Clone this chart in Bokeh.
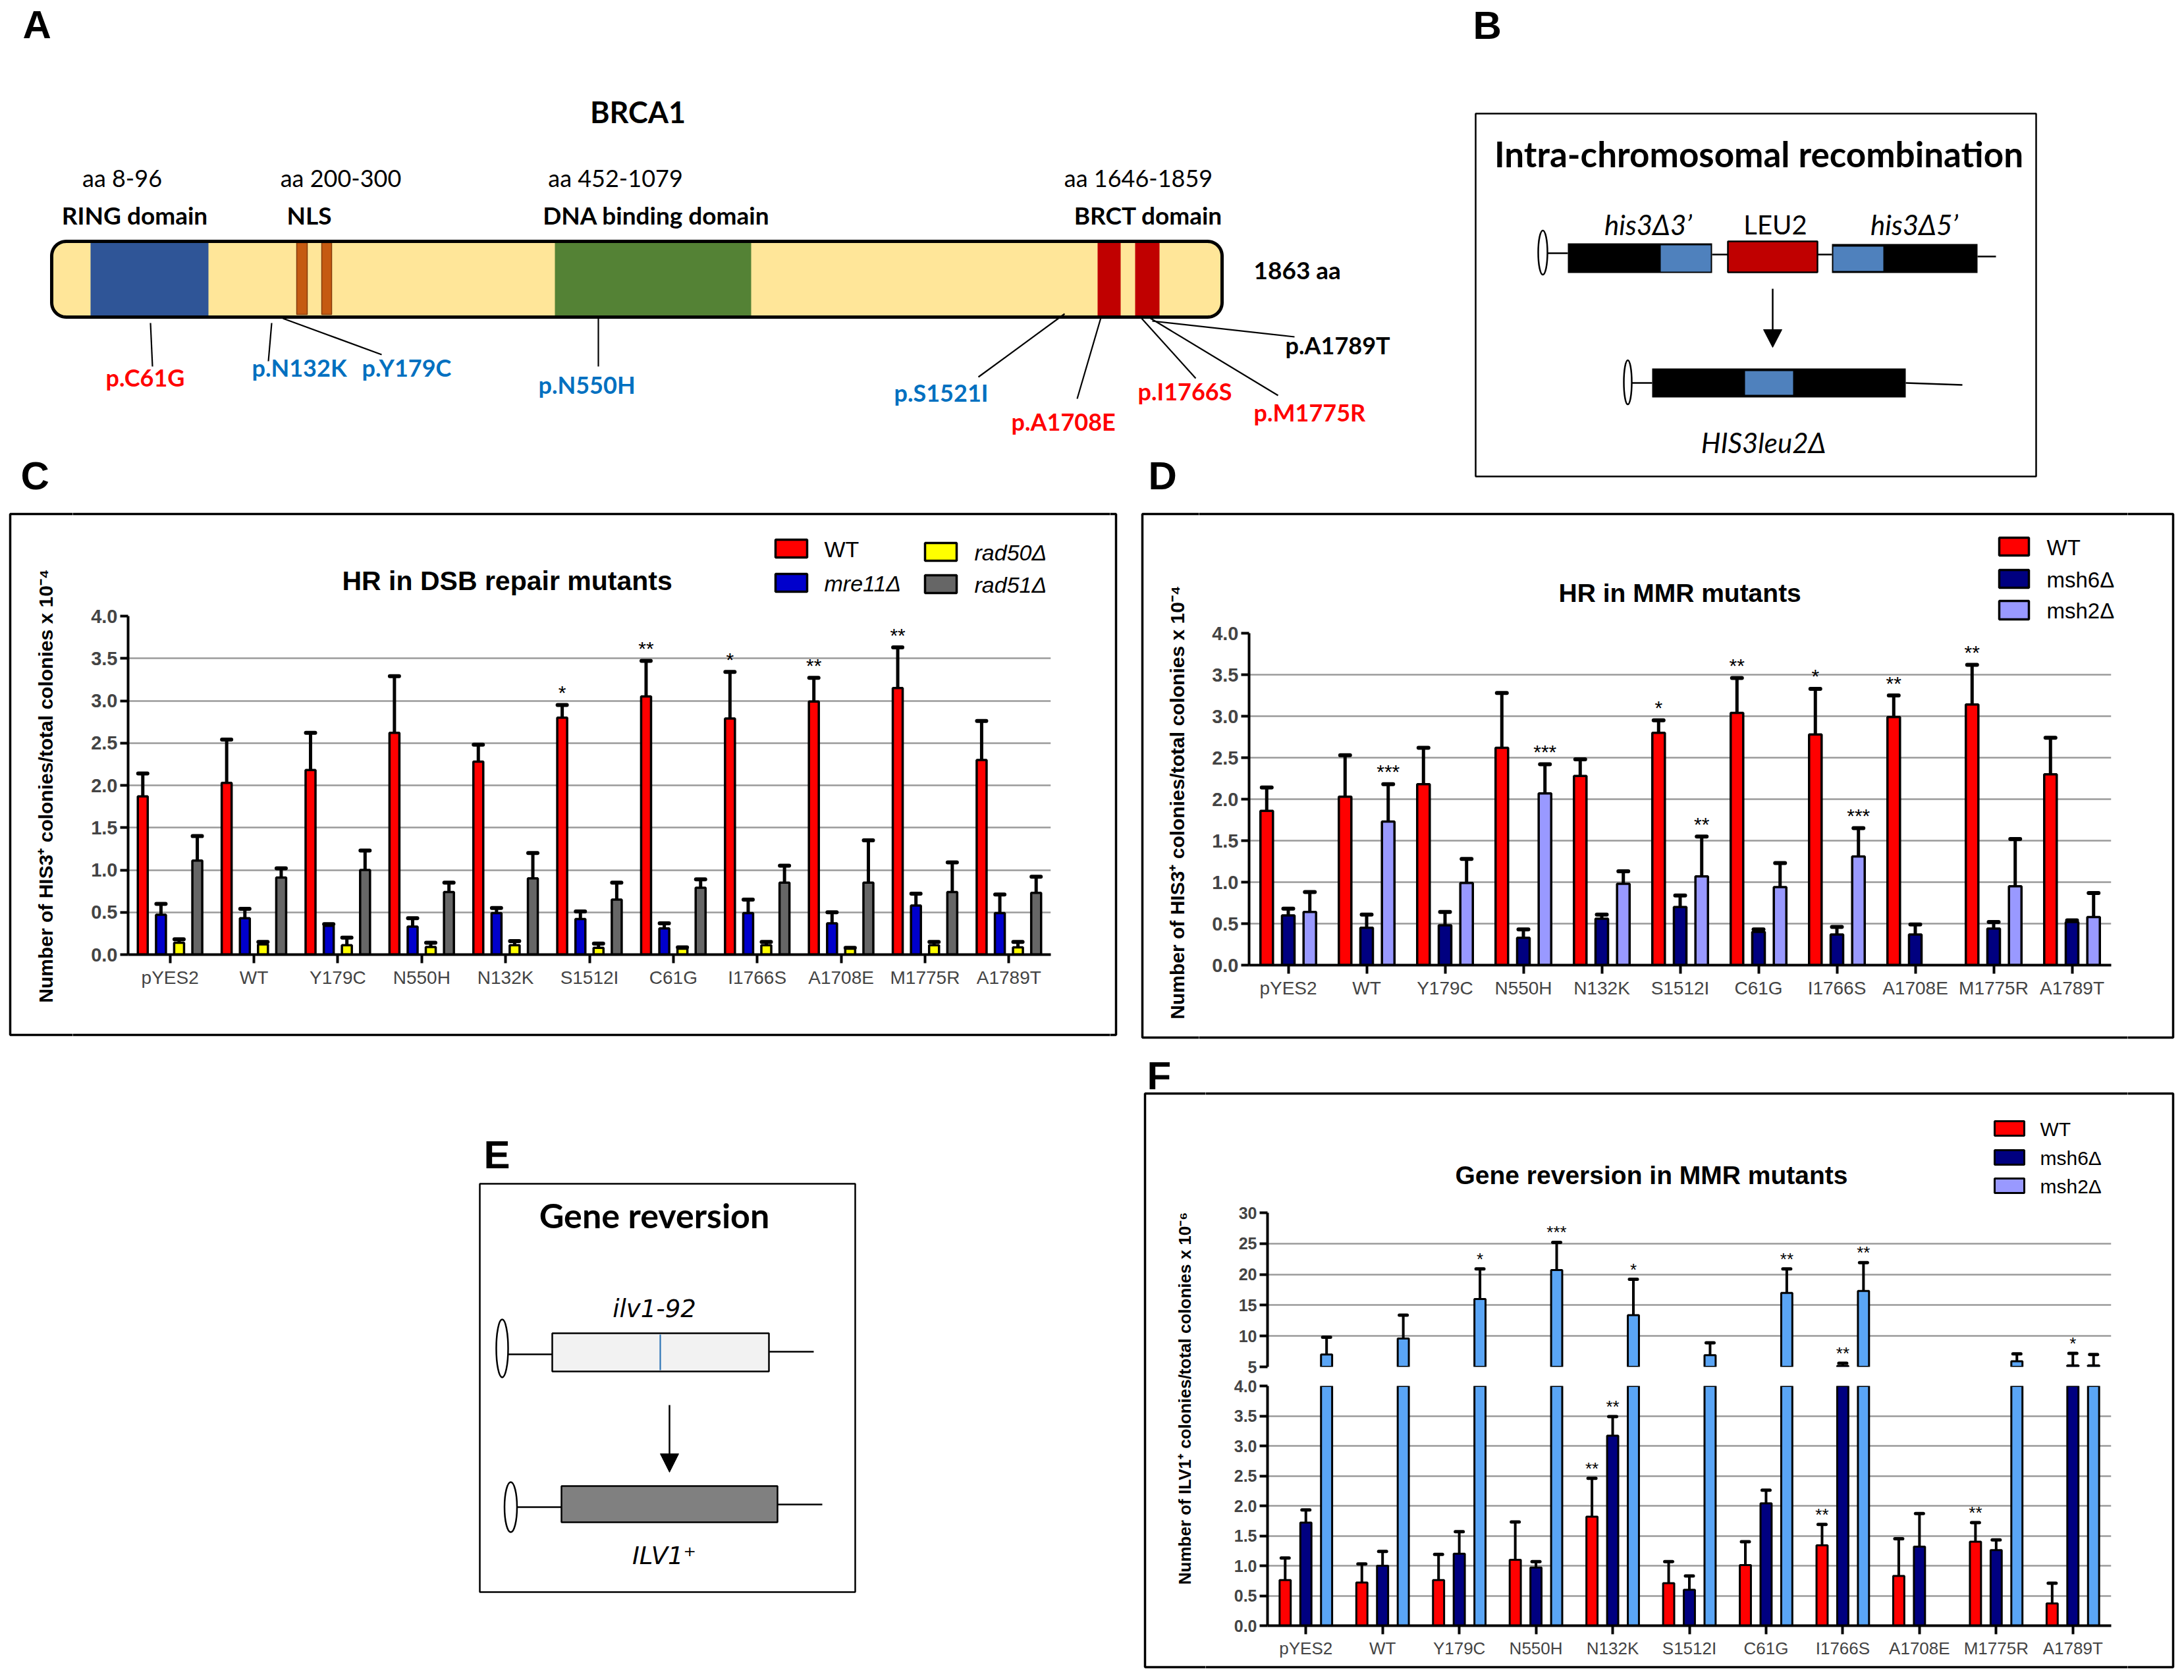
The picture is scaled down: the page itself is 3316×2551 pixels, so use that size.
import numpy as np
from bokeh.plotting import figure
from bokeh.models import Range1d, FactorRange, FixedTicker, ColumnDataSource, PrintfTickFormatter
from bokeh.transform import dodge
from bokeh.layouts import row, column
from bokeh.core.properties import value
from bokeh.embed import file_html
from bokeh.resources import INLINE

nan = float("nan")

# ---------------------------------------------------------------- data
categories = ["pYES2", "WT", "Y179C", "N550H", "N132K", "S1512I",
              "C61G", "I1766S", "A1708E", "M1775R", "A1789T"]

# Panel C : HR in DSB repair mutants (x 10^-4)
c_series = ["WT", "mre11Δ", "rad50Δ", "rad51Δ"]
c_colors = ["#FF0000", "#0000CC", "#FFFF00", "#666666"]
c_wt = [1.87, 2.03, 2.18, 2.62, 2.28, 2.80, 3.05, 2.79, 2.99, 3.15, 2.30]
c_wt_err = [2.14, 2.54, 2.62, 3.29, 2.48, 2.95, 3.47, 3.34, 3.27, 3.63, 2.76]
c_mre11 = [0.47, 0.43, 0.34, 0.33, 0.49, 0.42, 0.31, 0.49, 0.37, 0.58, 0.49]
c_mre11_err = [0.60, 0.54, 0.36, 0.43, 0.55, 0.51, 0.37, 0.65, 0.50, 0.72, 0.71]
c_rad50 = [0.14, 0.12, 0.11, 0.09, 0.11, 0.08, 0.07, 0.11, 0.07, 0.11, 0.085]
c_rad50_err = [0.18, 0.15, 0.20, 0.14, 0.16, 0.13, 0.085, 0.15, 0.08, 0.15, 0.15]
c_rad51 = [1.11, 0.91, 1.00, 0.74, 0.90, 0.65, 0.79, 0.85, 0.85, 0.74, 0.73]
c_rad51_err = [1.40, 1.02, 1.23, 0.85, 1.20, 0.85, 0.89, 1.05, 1.35, 1.09, 0.92]
c_stars = [("S1512I", 0, "*"), ("C61G", 0, "**"), ("I1766S", 0, "*"),
           ("A1708E", 0, "**"), ("M1775R", 0, "**")]

# Panel D : HR in MMR mutants (x 10^-4)
d_series = ["WT", "msh6Δ", "msh2Δ"]
d_colors = ["#FF0000", "#000080", "#9999FF"]
d_wt = [1.86, 2.03, 2.18, 2.62, 2.28, 2.80, 3.04, 2.78, 2.99, 3.14, 2.30]
d_wt_err = [2.14, 2.53, 2.62, 3.28, 2.48, 2.95, 3.46, 3.33, 3.25, 3.62, 2.74]
d_msh6 = [0.60, 0.45, 0.48, 0.33, 0.56, 0.70, 0.40, 0.37, 0.37, 0.44, 0.52]
d_msh6_err = [0.68, 0.61, 0.64, 0.43, 0.61, 0.84, 0.43, 0.46, 0.49, 0.52, 0.54]
d_msh2 = [0.64, 1.73, 0.99, 2.07, 0.98, 1.07, 0.94, 1.31, nan, 0.95, 0.58]
d_msh2_err = [0.88, 2.18, 1.28, 2.42, 1.13, 1.55, 1.23, 1.65, nan, 1.52, 0.87]
d_stars = [("WT", 2, "***"), ("N550H", 2, "***"), ("S1512I", 0, "*"), ("S1512I", 2, "**"),
           ("C61G", 0, "**"), ("I1766S", 0, "*"), ("I1766S", 2, "***"),
           ("A1708E", 0, "**"), ("M1775R", 0, "**")]

# Panel F : Gene reversion in MMR mutants (x 10^-6)
f_series = ["WT", "msh6Δ", "msh2Δ"]
f_bar_colors = ["#FF0000", "#000080", "#5AA5F5"]
f_legend_colors = ["#FF0000", "#000080", "#9999FF"]
f_wt = [0.76, 0.72, 0.76, 1.10, 1.82, 0.71, 1.01, 1.34, 0.83, 1.40, 0.37]
f_wt_err = [1.13, 1.03, 1.19, 1.73, 2.46, 1.07, 1.40, 1.69, 1.45, 1.72, 0.71]
f_msh6 = [1.72, 1.00, 1.20, 0.97, 3.17, 0.60, 2.04, 5.15, 1.32, 1.26, 5.25]
f_msh6_err = [1.93, 1.24, 1.57, 1.07, 3.49, 0.83, 2.26, 5.6, 1.87, 1.43, 7.2]
f_msh2 = [7.0, 9.6, 16.0, 20.7, 13.4, 6.9, 17.0, 17.3, nan, 5.9, 5.25]
f_msh2_err = [9.8, 13.4, 20.9, 25.2, 19.2, 8.9, 20.9, 21.9, nan, 7.1, 7.0]
f_stars = [("Y179C", 2, "*"), ("N550H", 2, "***"), ("N132K", 2, "*"), ("N132K", 0, "**"),
           ("N132K", 1, "**"), ("C61G", 2, "**"), ("I1766S", 0, "**"), ("I1766S", 1, "**"),
           ("I1766S", 2, "**"), ("M1775R", 0, "**"), ("A1789T", 1, "*")]

# Panel A : BRCA1 schematic
a_domain_labels = [("aa 8-96", "RING domain", 185, 204), ("aa 200-300", "NLS", 517, 469),
                   ("aa 452-1079", "DNA binding domain", 934, 996),
                   ("aa 1646-1859", "BRCT domain", 1728, 1743)]
a_mutations = [("p.C61G", "#FF0000", 160, 585, (228, 490, 231, 556)),
               ("p.N132K", "#0070C0", 382, 570, (412, 490, 407, 548)),
               ("p.Y179C", "#0070C0", 549, 570, (429, 483, 579, 538)),
               ("p.N550H", "#0070C0", 817, 596, (908, 483, 908, 556)),
               ("p.S1521I", "#0070C0", 1357, 608, (1616, 476, 1485, 572)),
               ("p.A1708E", "#FF0000", 1535, 652, (1671, 482, 1635, 605)),
               ("p.I1766S", "#FF0000", 1727, 606, (1732, 482, 1815, 574)),
               ("p.M1775R", "#FF0000", 1903, 638, (1745, 482, 1940, 600)),
               ("p.A1789T", "black", 1951, 536, (1749, 487, 1965, 511))]

# ---------------------------------------------------------------- style
ARIAL = "Liberation Sans"
CAL = "Lato"
VERD = "DejaVu Sans"

BOXES = [(2240, 172, 3091, 723, 2.5), (15, 780, 1694, 1571, 3.5), (1734, 780, 3299, 1575, 3.5),
         (728, 1797, 1298, 2417, 2.5), (1738, 1660, 3299, 2531, 3.5)]


def canvas(x0, y0, x1, y1):
    p = figure(width=x1 - x0, height=y1 - y0, x_range=Range1d(x0, x1), y_range=Range1d(-y1, -y0),
               x_axis_location=None, y_axis_location=None, toolbar_location=None,
               output_backend="svg", min_border=0, frame_align=False)
    p.xgrid.visible = False
    p.ygrid.visible = False
    p.outline_line_color = None
    p.border_fill_color = "white"
    p.background_fill_color = "white"
    p.quad(left=[b[0] for b in BOXES], right=[b[2] for b in BOXES],
           top=[-b[1] for b in BOXES], bottom=[-b[3] for b in BOXES],
           fill_color=None, line_color="black", line_width=[b[4] for b in BOXES])
    return p


def txt(p, x, y, s, size, font=CAL, style="normal", color="black", align="left",
        baseline="alphabetic", angle=0.0):
    # y is the intended alphabetic baseline (page px); drawn with a 'middle' anchor
    if baseline == "alphabetic":
        y = y - 0.35 * size
        baseline = "middle"
    p.text(x=[x], y=[-y], text=[s], text_font=value(font), text_font_size=f"{size}px",
           text_font_style=style, text_color=color, text_align=align,
           text_baseline=baseline, angle=angle)


def seg(p, x0, y0, x1, y1, w=2.5, color="black"):
    p.segment(x0=[x0], y0=[-y0], x1=[x1], y1=[-y1], line_color=color, line_width=w)


def box(p, x0, y0, x1, y1, fill, line=None, w=2.5):
    p.quad(left=[x0], right=[x1], top=[-y0], bottom=[-y1], fill_color=fill,
           line_color=line, line_width=w)


def oval(p, cx, cy, w, h):
    p.ellipse(x=[cx], y=[-cy], width=[w], height=[h], fill_color="white",
              line_color="black", line_width=2.5)


def arrow(p, x, y0, y1, hw, hl):
    seg(p, x, y0, x, y1 - hl + 2, 2.5)
    p.patch(x=[x - hw, x + hw, x], y=[-(y1 - hl), -(y1 - hl), -y1], fill_color="black",
            line_color="black")


def rounded(x0, y0, x1, y1, r, n=14):
    top, bot = -y0, -y1
    xs, ys = [], []
    for (cx, cy, a0) in [(x1 - r, top - r, 0), (x0 + r, top - r, 90),
                         (x0 + r, bot + r, 180), (x1 - r, bot + r, 270)]:
        for t in np.linspace(np.radians(a0), np.radians(a0 + 90), n):
            xs.append(cx + r * np.cos(t))
            ys.append(cy + r * np.sin(t))
    return xs, ys


# ---------------------------------------------------------------- row 1 (A, B)
r1 = canvas(0, 0, 3306, 770)
for s, x, y in [("A", 34, 58), ("B", 2236, 59), ("C", 31, 743), ("D", 1743, 743)]:
    txt(r1, x, y, s, 60, ARIAL, "bold")

txt(r1, 968, 185, "BRCA1", 45, CAL, "bold", align="center")
px, py = rounded(78, 366, 1855, 481, 22)
r1.patch(x=px, y=py, fill_color="#FFE699", line_color=None)
box(r1, 137, 368, 316, 479, "#2F5597")
box(r1, 450, 368, 466, 477, "#C55A11", "#843C0C", 1.5)
box(r1, 488, 368, 503, 477, "#C55A11", "#843C0C", 1.5)
box(r1, 842, 368, 1140, 479, "#548235")
box(r1, 1666, 367, 1701, 480, "#C00000")
box(r1, 1723, 367, 1760, 480, "#C00000")
r1.patch(x=px, y=py, fill_color=None, line_color="black", line_width=5)
for aa, name, xa, xn in a_domain_labels:
    txt(r1, xa, 282, aa, 36, CAL, "normal", align="center")
    txt(r1, xn, 339, name, 37, CAL, "bold", align="center")
txt(r1, 1903, 422, "1863 aa", 37, CAL, "bold")
for lab, col, lx, ly, (x0, y0, x1, y1) in a_mutations:
    seg(r1, x0, y0, x1, y1, 2.2)
    txt(r1, lx, ly, lab, 36, CAL, "bold", color=col)

# B
txt(r1, 2670, 252, "Intra-chromosomal recombination", 53, CAL, "bold", align="center")
txt(r1, 2502, 355, "his3Δ3’", 42, CAL, "italic", align="center")
txt(r1, 2695, 354, "LEU2", 40, CAL, "normal", align="center")
txt(r1, 2906, 355, "his3Δ5’", 42, CAL, "italic", align="center")
seg(r1, 2349, 384, 2380, 384)
seg(r1, 2599, 386, 2623, 386)
seg(r1, 2759, 386, 2781, 386)
seg(r1, 3002, 389, 3030, 389)
oval(r1, 2342, 383, 14, 67)
box(r1, 2380, 369, 2599, 414, "black")
box(r1, 2521, 372, 2597, 412, "#4F81BD")
box(r1, 2623, 366, 2759, 413, "#C00000", "black", 2.5)
box(r1, 2781, 370, 3002, 414, "black")
box(r1, 2783, 374, 2859, 411, "#4F81BD")
arrow(r1, 2691, 438, 527, 14, 27)
seg(r1, 2477, 581, 2508, 581)
seg(r1, 2893, 581, 2979, 584)
oval(r1, 2471, 580, 12, 67)
box(r1, 2508, 559, 2893, 603, "black")
box(r1, 2649, 563, 2722, 599, "#4F81BD")
txt(r1, 2677, 686, "HIS3leu2Δ", 42, CAL, "italic", align="center")


# ---------------------------------------------------------------- chart helpers
def bar_chart(width, height, xr, yr, mb, yticks, gticks, ybounds, fmt, ytick_size,
              show_x, xlab_size):
    p = figure(width=width, height=height, x_range=xr, y_range=Range1d(yr[0], yr[1]),
               toolbar_location=None, output_backend="svg", frame_align=False,
               x_axis_location="below" if show_x else None,
               min_border_left=mb[0], min_border_right=mb[1],
               min_border_top=mb[2], min_border_bottom=mb[3])
    p.outline_line_color = None
    p.border_fill_color = "white"
    p.background_fill_color = "white"
    p.xgrid.visible = False
    p.ygrid.ticker = FixedTicker(ticks=gticks)
    p.ygrid.grid_line_color = "#9A9A9A"
    p.ygrid.grid_line_width = 2.5
    ax = p.yaxis[0]
    ax.ticker = FixedTicker(ticks=yticks)
    ax.bounds = ybounds
    ax.formatter = PrintfTickFormatter(format=fmt)
    ax.axis_line_width = 4
    ax.major_tick_line_width = 4
    ax.major_tick_out = 12
    ax.major_tick_in = 0
    ax.minor_tick_line_color = None
    ax.major_label_text_font = ARIAL
    ax.major_label_text_font_size = f"{ytick_size}px"
    ax.major_label_text_font_style = "bold"
    ax.major_label_standoff = 4
    if show_x:
        xa = p.xaxis[0]
        xa.axis_line_width = 4
        xa.major_tick_line_width = 4
        xa.major_tick_out = 13
        xa.major_tick_in = 0
        xa.major_label_text_font = ARIAL
        xa.major_label_text_font_size = f"{xlab_size}px"
        xa.major_label_standoff = 6
    return p


def draw_series(p, vals, errs, off, width, color, lw, elw, cap, min_err=None):
    v = np.array(vals, float)
    e = np.array(errs, float)
    if min_err is not None:
        keep = e >= min_err
        v = np.where(keep, v, nan)
        e = np.where(keep, e, nan)
    src = ColumnDataSource(dict(cat=categories, val=v, err=e))
    xd = dodge("cat", off, range=p.x_range)
    p.segment(x0=xd, y0="val", x1=xd, y1="err", source=src, line_color="black", line_width=elw)
    p.scatter(x=xd, y="err", source=src, marker="dash", size=cap, line_color="black",
              line_width=elw + 1, line_cap="round")
    p.vbar(x=xd, top="val", bottom=0, width=width, source=src, fill_color=color,
           line_color="black", line_width=lw)


def draw_stars(p, stars, offsets, err_lists, size, yoff, lo=-1e9, hi=1e9):
    for k, off in enumerate(offsets):
        sel = [s for s in stars if s[1] == k
               and lo <= err_lists[k][categories.index(s[0])] < hi]
        if not sel:
            continue
        src = ColumnDataSource(dict(cat=[s[0] for s in sel],
                                    y=[err_lists[k][categories.index(s[0])] for s in sel],
                                    t=[s[2] for s in sel]))
        p.text(x=dodge("cat", off, range=p.x_range), y="y", text="t", source=src,
               text_font=value(ARIAL), text_font_size=f"{size}px", text_align="center",
               text_baseline="middle", y_offset=yoff, text_color="black")


def legend(p, names, colors, rects, tx, size, styles, lw):
    for name, col, (x0, y0, x1, y1), x, st in zip(names, colors, rects, tx, styles):
        box(p, x0, y0, x1, y1, col, "black", lw)
        txt(p, x, (y0 + y1) / 2 + 1, name, size, ARIAL, st, baseline="middle")


ticks_04 = [0.0, 0.5, 1.0, 1.5, 2.0, 2.5, 3.0, 3.5, 4.0]
grid_04 = ticks_04[1:]
ylab_his = "Number of HIS3⁺ colonies/total colonies x 10⁻⁴"
ylab_ilv = "Number of ILV1⁺ colonies/total colonies x 10⁻⁶"

# ---------------------------------------------------------------- row 2 (C, D)
leftC = canvas(0, 770, 110, 1600)
txt(leftC, 69, 1193, ylab_his, 30, ARIAL, "bold", align="center", baseline="middle",
    angle=np.pi / 2)
topC = canvas(110, 770, 1685, 912)
txt(topC, 519, 896, "HR in DSB repair mutants", 41, ARIAL, "bold")
legend(topC, c_series, c_colors,
       [(1177, 819, 1225, 846), (1177, 871, 1225, 898), (1404, 824, 1452, 851), (1404, 873, 1452, 900)],
       [1251, 1251, 1479, 1479], 34, ["normal", "italic", "italic", "italic"], 3.5)
pC = bar_chart(1575, 633, FactorRange(factors=categories), (0, 4.0), (84, 90, 23, 96),
               ticks_04, grid_04, (0, 4), "%.1f", 29, True, 28)
c_off = [-0.325, -0.108, 0.108, 0.325]
for vals, errs, off, col in zip([c_wt, c_mre11, c_rad50, c_rad51],
                                [c_wt_err, c_mre11_err, c_rad50_err, c_rad51_err], c_off, c_colors):
    draw_series(pC, vals, errs, off, 0.118, col, 3.5, 5, 14)
draw_stars(pC, c_stars, c_off, [c_wt_err, c_mre11_err, c_rad50_err, c_rad51_err], 30, -19)
bottomC = canvas(110, 1545, 1685, 1600)

midCD = canvas(1685, 770, 1820, 1600)
txt(midCD, 1787, 1218, ylab_his, 30, ARIAL, "bold", align="center", baseline="middle",
    angle=np.pi / 2)
topD = canvas(1820, 770, 3230, 945)
txt(topD, 2366, 914, "HR in MMR mutants", 39, ARIAL, "bold")
legend(topD, d_series, d_colors,
       [(3035, 816, 3080, 843), (3035, 865, 3080, 892), (3035, 912, 3080, 940)],
       [3107, 3107, 3107], 33, ["normal", "normal", "normal"], 3.5)
pD = bar_chart(1410, 605, FactorRange(factors=categories), (0, 4.0), (76, 25, 16, 85),
               ticks_04, grid_04, (0, 4), "%.1f", 29, True, 28)
d_off = [-0.275, 0.0, 0.275]
for vals, errs, off, col in zip([d_wt, d_msh6, d_msh2], [d_wt_err, d_msh6_err, d_msh2_err],
                                d_off, d_colors):
    draw_series(pD, vals, errs, off, 0.16, col, 3.5, 5, 15)
draw_stars(pD, d_stars, d_off, [d_wt_err, d_msh6_err, d_msh2_err], 30, -19)
bottomD = canvas(1820, 1550, 3230, 1600)
rightD = canvas(3230, 770, 3306, 1600)

# ---------------------------------------------------------------- row 3 (E, F)
E = canvas(0, 1600, 1720, 2538)
txt(E, 734, 1774, "E", 60, ARIAL, "bold")
txt(E, 993, 1863, "Gene reversion", 52, CAL, "bold", align="center")
txt(E, 993, 2000, "ilv1-92", 37, VERD, "italic", align="center")
seg(E, 771, 2056, 838, 2056)
seg(E, 1167, 2052, 1235, 2052)
oval(E, 762, 2047, 18, 88)
box(E, 838, 2024, 1167, 2082, "#F2F2F2", "black", 2.5)
seg(E, 1002, 2026, 1002, 2080, 2.2, "#2E75B6")
arrow(E, 1016, 2133, 2235, 14, 28)
seg(E, 784, 2288, 852, 2288)
seg(E, 1180, 2284, 1248, 2284)
oval(E, 775, 2288, 19, 76)
box(E, 852, 2256, 1180, 2311, "#808080", "black", 2.5)
txt(E, 1008, 2375, "ILV1⁺", 37, VERD, "italic", align="center")

leftF = canvas(1720, 1600, 1830, 2538)
txt(leftF, 1741, 1654, "F", 60, ARIAL, "bold")
txt(leftF, 1798, 2123, ylab_ilv, 26, ARIAL, "bold", align="center", baseline="middle",
    angle=np.pi / 2)
topF = canvas(1830, 1600, 3230, 1825)
txt(topF, 2209, 1798, "Gene reversion in MMR mutants", 39, ARIAL, "bold")
legend(topF, f_series, f_legend_colors,
       [(3028, 1702, 3073, 1724), (3028, 1746, 3073, 1768), (3028, 1789, 3073, 1811)],
       [3097, 3097, 3097], 30, ["normal", "normal", "normal"], 3)

xrF = FactorRange(factors=categories)
pFu = bar_chart(1400, 265, xrF, (5, 30), (94, 25, 16, 15), [5, 10, 15, 20, 25, 30],
                [10, 15, 20, 25, 30], (5, 30), "%d", 25, False, 26)
pFl = bar_chart(1400, 430, xrF, (0, 4.0), (94, 25, 14, 52), ticks_04, grid_04, (0, 4),
                "%.1f", 25, True, 26)
f_off = [-0.27, 0.0, 0.27]
f_vals = [f_wt, f_msh6, f_msh2]
f_errs = [f_wt_err, f_msh6_err, f_msh2_err]
for vals, errs, off, col in zip(f_vals, f_errs, f_off, f_bar_colors):
    draw_series(pFu, vals, errs, off, 0.145, col, 3, 4, 12, min_err=5.0)
    draw_series(pFl, vals, errs, off, 0.145, col, 3, 4, 12)
draw_stars(pFu, f_stars, f_off, f_errs, 26, -15, lo=5.0)
draw_stars(pFl, f_stars, f_off, f_errs, 26, -15, hi=4.0)
bottomF = canvas(1830, 2520, 3230, 2538)
rightF = canvas(3230, 1600, 3306, 2538)

page = column(
    r1,
    row(leftC, column(topC, pC, bottomC), midCD, column(topD, pD, bottomD), rightD),
    row(E, leftF, column(topF, pFu, pFl, bottomF), rightF),
)

open("out.html", "w").write(file_html(page, INLINE))
